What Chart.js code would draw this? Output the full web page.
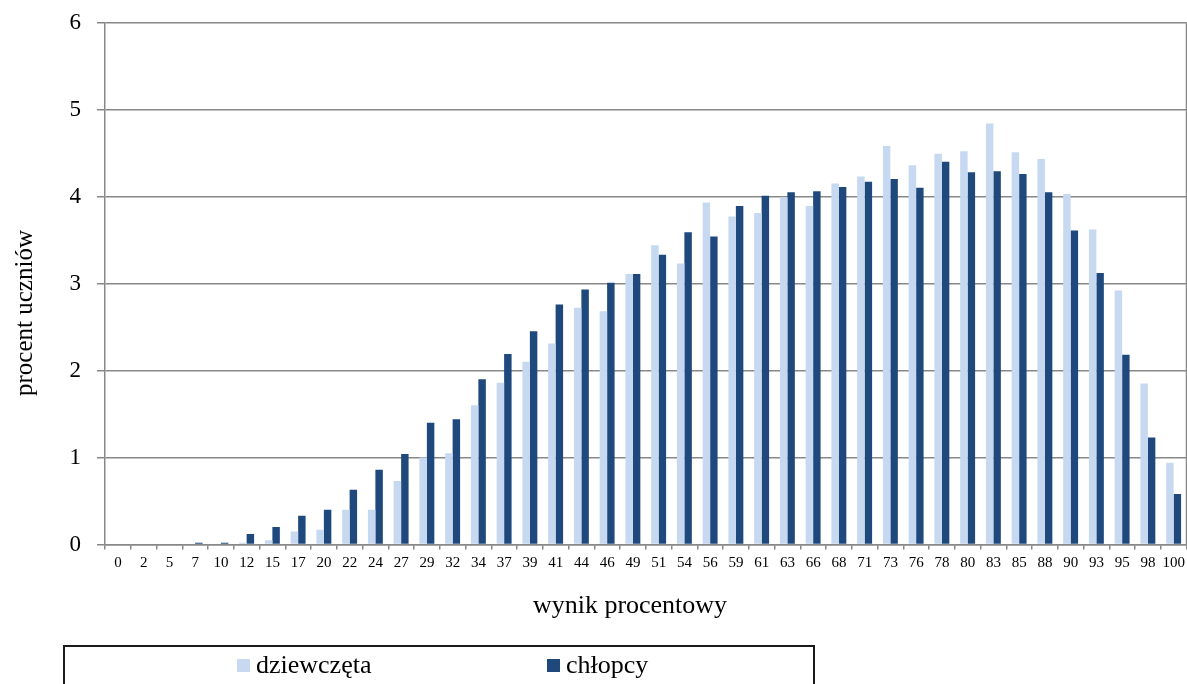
<!DOCTYPE html>
<html>
<head>
<meta charset="utf-8">
<script src="https://cdn.jsdelivr.net/npm/chart.js@4/dist/chart.umd.min.js"></script>
<style>
  html, body { margin: 0; padding: 0; background: #fff; overflow: hidden; }
  #wrap { position: relative; width: 1187px; height: 684px; }
  #legendBox {
    position: absolute; left: 63px; top: 645px; width: 752px; height: 60px;
    border: 2px solid #1a1a1a; box-sizing: border-box;
    font-family: "Liberation Serif", serif; font-size: 26px; color: #000;
  }
  .item { position: absolute; top: 1px; line-height: 34px; white-space: nowrap; }
  .sw { display: inline-block; width: 13px; height: 13px; margin-right: 6px; vertical-align: 1px; }
</style>
</head>
<body>
<div id="wrap">
  <canvas id="myChart" width="1187" height="684"></canvas>
  <div id="legendBox">
    <span class="item" style="left:172px"><span class="sw" style="background:#C6D9F1"></span>dziewczęta</span>
    <span class="item" style="left:482px"><span class="sw" style="background:#1F497D"></span>chłopcy</span>
  </div>
</div>
<script>
const categories = ["0","2","5","7","10","12","15","17","20","22","24","27","29","32","34","37","39","41","44","46",
  "49","51","54","56","59","61","63","66","68","71","73","76","78","80","83","85","88","90","93","95","98","100"]

const girls = [0, 0, 0, 0, 0, 0.02, 0.05, 0.15, 0.17, 0.40, 0.40, 0.73, 1.00, 1.05, 1.60, 1.86, 2.10, 2.31, 2.72, 2.68,
  3.11, 3.44, 3.23, 3.93, 3.77, 3.81, 3.99, 3.89, 4.15, 4.23, 4.58, 4.36, 4.49, 4.52, 4.84, 4.51, 4.43, 4.03, 3.62, 2.92, 1.85, 0.94]

const boys = [0, 0, 0, 0.02, 0.02, 0.12, 0.20, 0.33, 0.40, 0.63, 0.86, 1.04, 1.40, 1.44, 1.90, 2.19, 2.45, 2.76, 2.93, 3.01,
  3.11, 3.33, 3.59, 3.54, 3.89, 4.01, 4.05, 4.06, 4.11, 4.17, 4.20, 4.10, 4.40, 4.28, 4.29, 4.26, 4.05, 3.61, 3.12, 2.18, 1.23, 0.58]

const yTicks = [0, 1, 2, 3, 4, 5, 6]

const xTitle = "wynik procentowy"
const yTitle = "procent uczniów"

const gridColor = "#888888"
const serif = "'Liberation Serif', 'Times New Roman', serif"

// axis titles + right frame line
const extras = {
  id: "extras",
  afterDraw(chart) {
    const ctx = chart.ctx
    const area = chart.chartArea
    ctx.save()
    ctx.strokeStyle = gridColor
    ctx.lineWidth = 1.5
    ctx.beginPath()
    ctx.moveTo(area.right, area.top)
    ctx.lineTo(area.right, area.bottom)
    ctx.stroke()

    ctx.fillStyle = "#000"
    ctx.font = "26px " + serif
    ctx.textAlign = "center"
    ctx.textBaseline = "middle"
    ctx.fillText(xTitle, 630, 606)

    ctx.font = "25px " + serif
    ctx.translate(25, 313)
    ctx.rotate(-Math.PI / 2)
    ctx.fillText(yTitle, 0, 0)
    ctx.restore()
  }
}

new Chart(document.getElementById("myChart").getContext("2d"), {
  type: "bar",
  data: {
    labels: categories,
    datasets: [
      { label: "dziewczęta", data: girls, backgroundColor: "#C6D9F1", borderWidth: 0 },
      { label: "chłopcy", data: boys, backgroundColor: "#1F497D", borderWidth: 0 }
    ]
  },
  options: {
    responsive: false,
    animation: false,
    devicePixelRatio: 1,
    layout: { padding: { top: 22.5, right: 0.5, left: 0, bottom: 0 } },
    datasets: { bar: { categoryPercentage: 0.58, barPercentage: 1 } },
    plugins: { legend: { display: false }, tooltip: { enabled: false } },
    scales: {
      x: {
        grid: { offset: true, drawOnChartArea: false, drawTicks: true, tickLength: 5, color: gridColor, lineWidth: 1.5 },
        border: { color: gridColor, width: 1.5 },
        ticks: { color: "#000", font: { family: serif, size: 15 }, padding: 5, maxRotation: 0, autoSkip: false },
        afterFit(scale) {
          scale.height = 139.5
          scale.paddingLeft = 0
          scale.paddingRight = 0
        }
      },
      y: {
        min: 0, max: 6,
        afterBuildTicks(scale) { scale.ticks = yTicks.map(v => ({ value: v })) },
        grid: { color: gridColor, lineWidth: 1.5, tickLength: 8, tickColor: gridColor },
        border: { color: gridColor, width: 1.5 },
        ticks: { color: "#000", font: { family: serif, size: 23 }, padding: 16 },
        afterFit(scale) {
          scale.width = 105
          scale.paddingTop = 0
          scale.paddingBottom = 0
        }
      }
    }
  },
  plugins: [extras]
})
</script>
</body>
</html>
